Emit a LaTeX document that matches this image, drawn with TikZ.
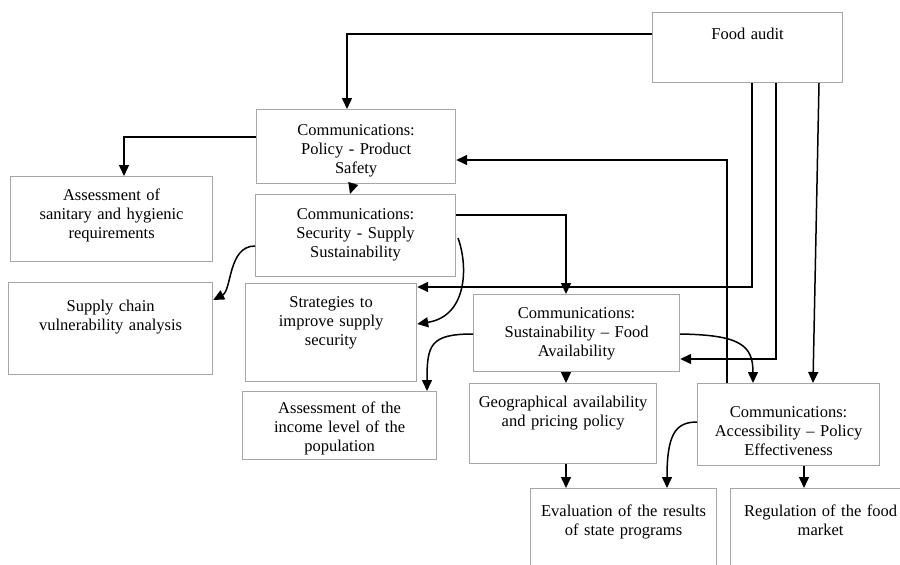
\documentclass[tikz,border=0pt]{standalone}
\usepackage{fontspec}
\setmainfont{Liberation Serif}
\usetikzlibrary{arrows.meta}
\tikzset{
    box/.style={draw=black!35, line width=1.2pt, inner sep=0pt, align=center,
        anchor=north west, font=\fontsize{16.5}{19}\selectfont},
    sz/.style n args={3}{text width=#1pt, text height=#2pt, text depth=#3pt},
    conn/.style={->, line width=1.5pt}
}
\begin{document}
\begin{tikzpicture}[x=1pt, y=-1pt, >={Triangle[length=11pt,width=10pt]}]
            \useasboundingbox (0,0) rectangle (900,565);
            \clip (0,0) rectangle (900,565);

            \node[box, sz={190}{26.5}{43.5}] (audit) at (652,12) {Food audit};
            \node[box, sz={199}{25.5}{48.5}] (policy) at (256,109) {Communications:\\ Policy - Product\\ Safety};
            \node[box, sz={202}{23.5}{61.5}] (sanitary) at (10,176) {Assessment of\\ sanitary and hygienic\\ requirements};
            \node[box, sz={200}{24.5}{57.5}] (security) at (255,194) {Communications:\\ Security - Supply\\ Sustainability};
            \node[box, sz={204}{28.5}{63.5}] (supply) at (8,282) {Supply chain\\ vulnerability analysis};
            \node[box, sz={171}{23.5}{74.5}] (strategies) at (245,283) {Strategies to\\ improve supply\\ security};
            \node[box, sz={206}{23.5}{53.5}] (sustain) at (473,294) {Communications:\\ Sustainability – Food\\ Availability};
            \node[box, sz={194}{21.5}{46.5}] (income) at (242,391) {Assessment of the\\ income level of the\\ population};
            \node[box, sz={187}{23.5}{56.5}] (geo) at (469,383) {Geographical availability\\ and pricing policy};
            \node[box, sz={182}{33.5}{48.5}] (access) at (697,383) {Communications:\\ Accessibility – Policy\\ Effectiveness};
            \node[box, sz={186}{27.5}{60}] (evaluation) at (530,488) {Evaluation of the results\\ of state programs};
            \node[box, sz={180}{27.5}{60}] (regulation) at (730,488) {Regulation of the food\\ market};

            \draw[conn] (audit.west |- 0,34) -| (347,0 |- policy.north);
            \draw[conn] (policy.west |- 0,137) -| (124,0 |- sanitary.north);
            \draw[conn] (353,0 |- policy.south) -- (350,0 |- security.north);
            \draw[conn] (security.east |- 0,215) -| (566,0 |- sustain.north);
            \draw[conn] (security.west |- 0,246) .. controls (228,246) and (232,290) .. (supply.east |- 0,300);
            \draw[conn] (458,238) .. controls (468,265) and (468,316) .. (strategies.east |- 0,324);
            \draw[conn] (sustain.west |- 0,334) .. controls (430,334) and (427,345) .. (427,0 |- income.north);
            \draw[conn] (566,0 |- sustain.south) -- (566,0 |- geo.north);
            \draw[conn] (sustain.east |- 0,334) .. controls (740,335) and (753,345) .. (753,0 |- access.north);

            \draw[conn] (752,0 |- audit.south) |- (strategies.east |- 0,287);
            \draw[conn] (776,0 |- audit.south) |- (sustain.east |- 0,359);
            \draw[conn] (819,0 |- audit.south) -- (813,0 |- access.north);
            \draw[conn] (727,0 |- access.north) |- (policy.east |- 0,160);

            \draw[conn] (566,0 |- geo.south) -- (566,0 |- evaluation.north);
            \draw[conn] (access.west |- 0,422) .. controls (675,422) and (667,435) .. (667,0 |- evaluation.north);
            \draw[conn] (804,0 |- access.south) -- (804,0 |- regulation.north);
        \end{tikzpicture}
\end{document}
